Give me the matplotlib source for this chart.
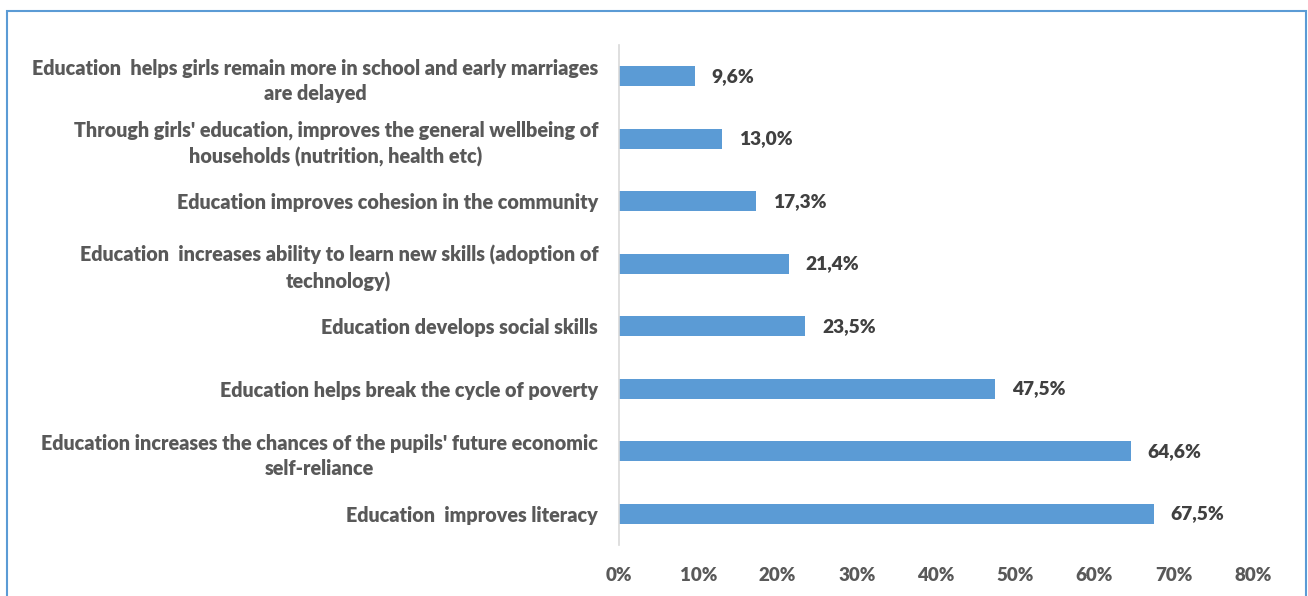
import matplotlib
matplotlib.use("Agg")
import matplotlib.pyplot as plt
from matplotlib.patches import Rectangle
from matplotlib.ticker import FuncFormatter

categories = [
    "Education  improves literacy",
    "Education increases the chances of the pupils' future economic\nself-reliance",
    "Education helps break the cycle of poverty",
    "Education develops social skills",
    "Education  increases ability to learn new skills (adoption of\ntechnology)",
    "Education improves cohesion in the community",
    "Through girls' education, improves the general wellbeing of\nhouseholds (nutrition, health etc)",
    "Education  helps girls remain more in school and early marriages\nare delayed",
]
values = [67.5, 64.6, 47.5, 23.5, 21.4, 17.3, 13.0, 9.6]
value_labels = ["67,5%", "64,6%", "47,5%", "23,5%", "21,4%", "17,3%", "13,0%", "9,6%"]
x_ticks = [0, 10, 20, 30, 40, 50, 60, 70, 80]

bar_color = "#5B9BD5"
text_color = "#595959"
font = "Lato"
weight = "heavy"

W, H = 1308, 596
fig = plt.figure(figsize=(W / 100, H / 100), dpi=100)

# outer frame
fig.patches.append(Rectangle((7 / W, -0.05), (1306 - 7) / W, 1.05 - 11 / H,
                             transform=fig.transFigure, fill=False,
                             edgecolor="#5B9BD5", linewidth=1.5))

ax = fig.add_axes([619 / W, 1 - 545 / H, (1253 - 619) / W, 500 / H])
y = list(range(len(categories)))
ax.barh(y, values, height=0.32, color=bar_color)
ax.set_ylim(-0.5, len(categories) - 0.5)
ax.set_xlim(0, 80)

for s in ["top", "right", "bottom"]:
    ax.spines[s].set_visible(False)
ax.spines["left"].set_color("#D9D9D9")
ax.spines["left"].set_linewidth(1.2)

ax.set_xticks(x_ticks)
ax.xaxis.set_major_formatter(FuncFormatter(lambda v, p: f"{v:.0f}%"))
ax.tick_params(axis="x", length=0, pad=16, labelsize=13.5, labelcolor=text_color)
ax.tick_params(axis="y", length=0, pad=15)
for lbl in ax.get_xticklabels():
    lbl.set_fontfamily(font)
    lbl.set_fontweight(weight)

ax.set_yticks(y)
ax.set_yticklabels(categories, fontfamily=font, fontweight=weight, fontsize=14.2,
                   color=text_color, ha="right", multialignment="center",
                   linespacing=1.38)

for yi, v, lab in zip(y, values, value_labels):
    ax.annotate(lab, (v, yi), xytext=(12, 0), textcoords="offset points",
                va="center", ha="left", fontfamily=font, fontweight=weight,
                fontsize=13.8, color="#404040")

fig.savefig("out.png", dpi=100)
